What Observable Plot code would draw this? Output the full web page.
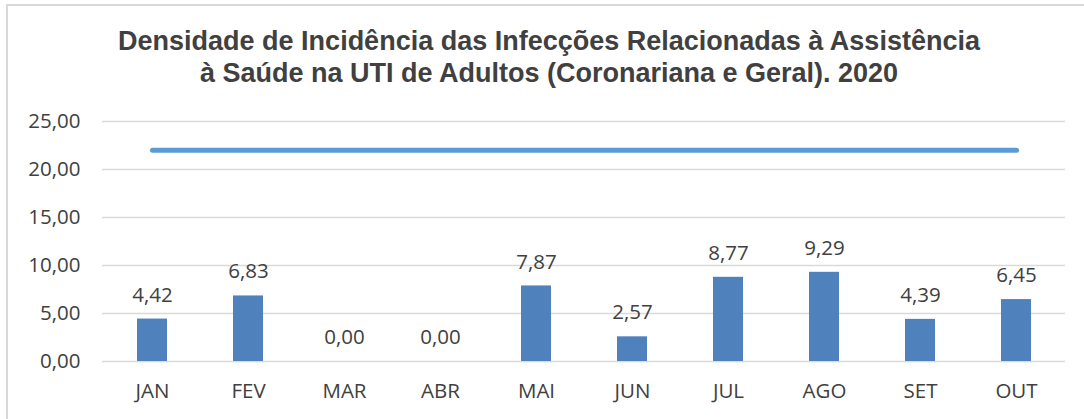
<!DOCTYPE html>
<html>
<head>
<meta charset="utf-8">
<script src="https://cdn.jsdelivr.net/npm/d3@7"></script>
<script src="https://cdn.jsdelivr.net/npm/@observablehq/plot@0.6"></script>
<style>
  body { margin: 0; background: #fff; }
  #wrap { position: relative; width: 1084px; height: 419px; overflow: hidden; }
  #frame { position: absolute; left: 6px; top: 4px; width: 1200px; height: 600px; border: 2px solid #d9d9d9; box-sizing: border-box; }
  #title { position: absolute; left: 0; top: 25px; width: 1098px; text-align: center;
           font-family: "Liberation Sans", Arial, sans-serif; font-weight: bold; font-size: 27px;
           line-height: 32px; color: #404040; }
  #chart { position: absolute; left: 0; top: 100px; }
</style>
</head>
<body>
<div id="wrap">
  <div id="frame"></div>
  <div id="title">Densidade de Incidência das Infecções Relacionadas à Assistência<br>à Saúde na UTI de Adultos (Coronariana e Geral). 2020</div>
  <div id="chart"></div>
</div>
<script>
const months = ["JAN", "FEV", "MAR", "ABR", "MAI", "JUN", "JUL", "AGO", "SET", "OUT"];
const density = [4.42, 6.83, 0.00, 0.00, 7.87, 2.57, 8.77, 9.29, 4.39, 6.45];
const reference = [22, 22, 22, 22, 22, 22, 22, 22, 22, 22];
const yTicks = [0, 5, 10, 15, 20, 25];

const bars = months.map((m, i) => ({month: m, value: density[i]}));
const refLine = months.map((m, i) => ({month: m, value: reference[i]}));
const fmt = v => v.toFixed(2).replace(".", ",");
const font = "'Open Sans', sans-serif";
const fs = 20.5;

const plot = Plot.plot({
  width: 1084,
  height: 319,
  marginTop: 21,
  marginBottom: 58,
  marginLeft: 102,
  marginRight: 19,
  style: {fontFamily: font, fontSize: fs + "px", color: "#404040", background: "transparent"},
  x: {domain: months, paddingInner: 0.69, paddingOuter: 0.345, label: null},
  y: {domain: [0, 25], label: null},
  marks: [
    Plot.ruleY(yTicks, {stroke: "#d9d9d9", strokeWidth: 1.5}),
    Plot.barY(bars, {x: "month", y: "value", fill: "#4f81bd"}),
    Plot.lineY(refLine, {x: "month", y: "value", stroke: "#5b9bd5", strokeWidth: 5, strokeLinecap: "round"}),
    Plot.text(bars, {x: "month", y: "value", text: d => fmt(d.value), dy: -24, fill: "#404040", fontSize: fs}),
    Plot.axisY(yTicks, {tickSize: 0, tickPadding: 22, tickFormat: fmt, fontSize: fs, fill: "#404040"}),
    Plot.axisX({tickSize: 0, tickPadding: 22, fontSize: fs, fill: "#404040"})
  ]
});
document.getElementById("chart").appendChild(plot);
</script>
</body>
</html>
